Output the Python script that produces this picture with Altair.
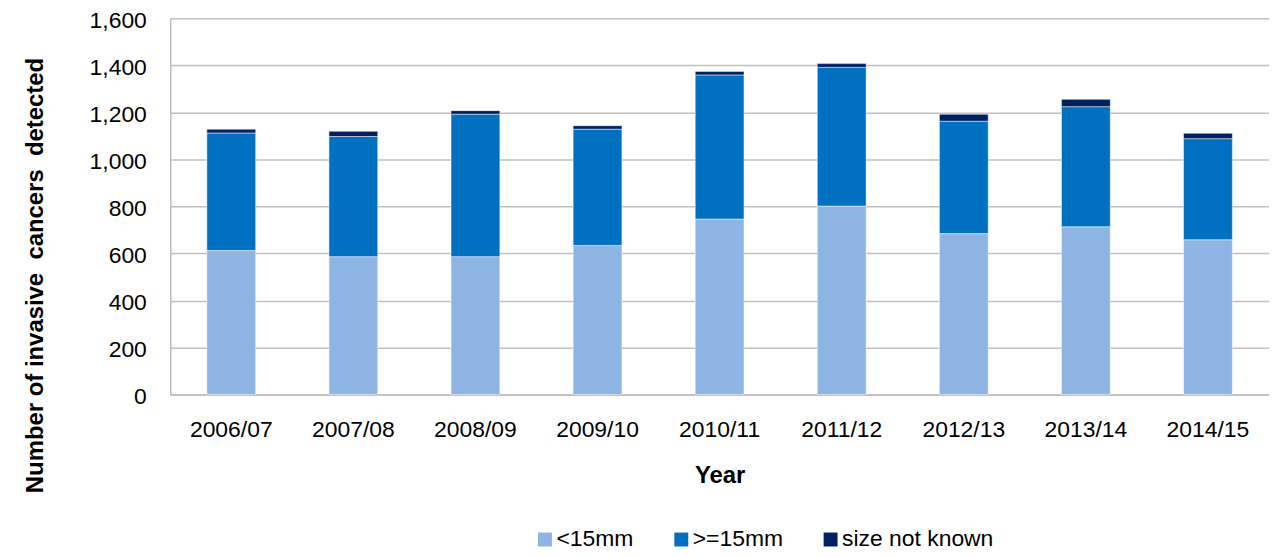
import altair as alt
import pandas as pd

years = ["2006/07", "2007/08", "2008/09", "2009/10", "2010/11",
         "2011/12", "2012/13", "2013/14", "2014/15"]
lt15 = [612, 586, 586, 634, 746, 801, 684, 713, 658]
ge15 = [500, 511, 606, 494, 613, 590, 478, 511, 430]
unknown = [16, 22, 15, 15, 15, 16, 30, 31, 23]

series = ["<15mm", ">=15mm", "size not known"]
colors = ["#8EB4E3", "#0070C0", "#002060"]

rows = []
for i, y in enumerate(years):
    for k, (name, vals) in enumerate(zip(series, [lt15, ge15, unknown])):
        rows.append({"Year": y, "Size": name, "Count": vals[i], "ord": k})
df = pd.DataFrame(rows)

FONT = "Liberation Sans"

chart = alt.Chart(df).mark_bar(
    stroke="white", strokeWidth=1, strokeOpacity=0.5
).encode(
    x=alt.X("Year:N", sort=years,
            scale=alt.Scale(paddingInner=0.6, paddingOuter=0.3),
            axis=alt.Axis(title="Year", labelAngle=0, ticks=False,
                          labelPadding=24, labelFontSize=23, labelFont=FONT,
                          labelColor="#000000",
                          titleFont=FONT, titleFontSize=24, titleFontWeight="bold",
                          titleColor="#000000", titleY=69,
                          domainColor="#BFBFBF", domainWidth=1.5, grid=False)),
    y=alt.Y("Count:Q", stack="zero",
            scale=alt.Scale(domain=[0, 1600], nice=False),
            axis=alt.Axis(title="Number of invasive\u00a0 cancers\u00a0 detected",
                          values=[0, 200, 400, 600, 800, 1000, 1200, 1400, 1600],
                          format=",d", ticks=False, labelPadding=24,
                          labelOffset=2.5,
                          labelFontSize=23, labelFont=FONT, labelColor="#000000",
                          titleFont=FONT, titleFontSize=24, titleFontWeight="bold",
                          titleColor="#000000", titleAngle=270,
                          titleX=-123, titleY=258,
                          domainColor="#BFBFBF", domainWidth=1.5,
                          gridColor="#C0C0C0", gridWidth=1.5)),
    color=alt.Color("Size:N", sort=series,
                    scale=alt.Scale(domain=series, range=colors),
                    legend=alt.Legend(title=None, orient="none", legendX=365,
                                      legendY=512, direction="horizontal",
                                      symbolType="square", symbolSize=196,
                                      symbolStrokeWidth=0,
                                      labelFontSize=23, labelFont=FONT,
                                      labelColor="#000000",
                                      columnPadding=36, labelOffset=0)),
    order=alt.Order("ord:Q", sort="ascending"),
).properties(
    width=1104, height=378,
    autosize=alt.AutoSizeParams(type="none"),
    padding={"left": 163, "top": 9, "right": 0, "bottom": 155},
).configure_view(stroke=None).configure(background="white")

chart.save("out.html", embed_options={"renderer": "svg", "actions": False})
